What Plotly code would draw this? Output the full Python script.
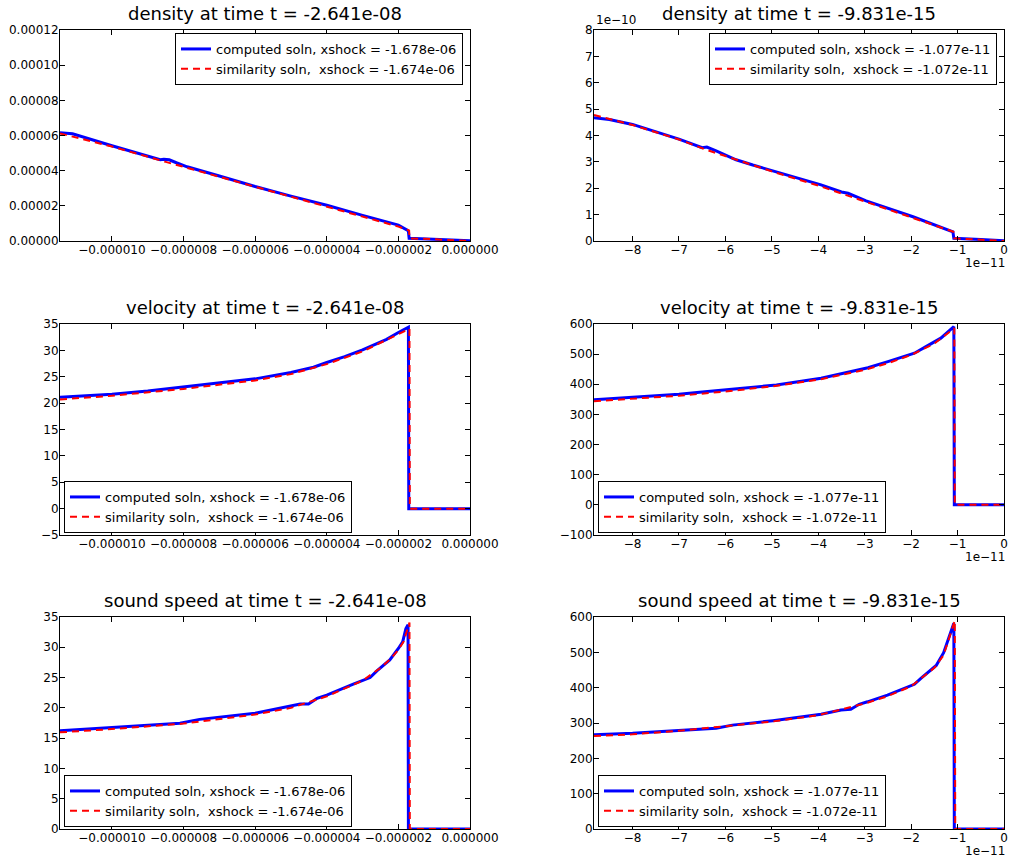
import plotly.graph_objects as go

W, H = 1010, 858
FONT = "DejaVu Sans"
MINUS = "\u2212"

# ---------------- data ----------------
# left column: x in metres (~1e-6), right column: x (~1e-11)
dens_L_comp_x = [-11.45e-6, -11.1e-6, -10.0e-6, -9.0e-6, -8.65e-6, -8.55e-6, -8.4e-6, -8.2e-6, -7.9e-6, -7.0e-6,
                 -6.0e-6, -5.0e-6, -4.65e-6, -4.5e-6, -4.3e-6, -4.0e-6, -3.0e-6, -2.75e-6, -2.6e-6, -2.0e-6,
                 -1.75e-6, -1.72e-6, -1.70e-6, -1.0e-6, 0.0]
dens_L_comp_y = [6.15e-5, 6.10e-5, 5.42e-5, 4.86e-5, 4.62e-5, 4.65e-5, 4.62e-5, 4.45e-5, 4.22e-5, 3.70e-5,
                 3.10e-5, 2.55e-5, 2.37e-5, 2.33e-5, 2.20e-5, 2.03e-5, 1.46e-5, 1.33e-5, 1.24e-5, 0.90e-5,
                 0.62e-5, 0.55e-5, 0.15e-5, 0.10e-5, 0.02e-5]
dens_L_sim_x = [-11.45e-6, -10.0e-6, -8.5e-6, -8.0e-6, -6.0e-6, -4.0e-6, -2.0e-6, -1.70e-6, -1.69e-6, -1.0e-6, 0.0]
dens_L_sim_y = [6.12e-5, 5.37e-5, 4.50e-5, 4.22e-5, 3.08e-5, 1.98e-5, 0.82e-5, 0.60e-5, 0.15e-5, 0.10e-5, 0.0]

dens_R_comp_x = [-8.83e-11, -8.5e-11, -8.0e-11, -7.0e-11, -6.5e-11, -6.4e-11, -6.2e-11, -5.77e-11, -5.41e-11,
                 -4.94e-11, -3.94e-11, -3.5e-11, -3.36e-11, -2.97e-11, -1.96e-11, -1.10e-11, -1.08e-11, -0.5e-11, 0.0]
dens_R_comp_y = [4.67e-10, 4.61e-10, 4.42e-10, 3.86e-10, 3.54e-10, 3.56e-10, 3.42e-10, 3.08e-10, 2.88e-10,
                 2.64e-10, 2.13e-10, 1.86e-10, 1.81e-10, 1.52e-10, 0.92e-10, 0.35e-10, 0.10e-10, 0.06e-10, 0.01e-10]
dens_R_sim_x = [-8.83e-11, -8.0e-11, -7.0e-11, -6.4e-11, -6.0e-11, -5.0e-11, -4.0e-11, -3.0e-11, -2.0e-11,
                -1.09e-11, -1.07e-11, 0.0]
dens_R_sim_y = [4.78e-10, 4.40e-10, 3.85e-10, 3.45e-10, 3.22e-10, 2.64e-10, 2.10e-10, 1.50e-10, 0.90e-10,
                0.35e-10, 0.10e-10, 0.0]

vel_L_comp_x = [-11.45e-6, -10.0e-6, -9.0e-6, -8.6e-6, -8.0e-6, -7.0e-6, -6.0e-6, -5.0e-6, -4.37e-6, -4.0e-6,
                -3.5e-6, -3.0e-6, -2.5e-6, -2.33e-6, -2.0e-6, -1.72e-6, -1.71e-6, 0.0]
vel_L_comp_y = [21.1, 21.7, 22.3, 22.6, 23.0, 23.8, 24.6, 25.8, 26.8, 27.7,
                28.8, 30.1, 31.6, 32.1, 33.4, 34.4, 0.0, 0.0]
vel_L_sim_x = [-11.45e-6, -10.0e-6, -8.0e-6, -6.0e-6, -5.0e-6, -4.0e-6, -3.0e-6, -2.5e-6, -2.0e-6, -1.69e-6,
               -1.68e-6, 0.0]
vel_L_sim_y = [20.7, 21.4, 22.7, 24.3, 25.5, 27.4, 29.8, 31.4, 33.1, 34.1, 0.0, 0.0]

vel_R_comp_x = [-8.83e-11, -8.0e-11, -7.0e-11, -6.5e-11, -5.9e-11, -4.9e-11, -3.94e-11, -3.29e-11, -2.93e-11,
                -2.5e-11, -1.93e-11, -1.68e-11, -1.36e-11, -1.08e-11, -1.07e-11, 0.0]
vel_R_comp_y = [349, 357, 367, 374.5, 383, 397.7, 420, 442, 455,
                475, 503, 525, 553, 591, 0, 0]
vel_R_sim_x = [-8.83e-11, -8.0e-11, -7.0e-11, -6.0e-11, -5.0e-11, -4.0e-11, -3.0e-11, -2.5e-11, -2.0e-11,
               -1.5e-11, -1.07e-11, -1.06e-11, 0.0]
vel_R_sim_y = [344, 352, 362, 376, 393, 415, 448, 470, 497, 535, 586, 0, 0]

snd_L_comp_x = [-11.45e-6, -10.0e-6, -8.1e-6, -7.55e-6, -6.0e-6, -4.74e-6, -4.51e-6, -4.27e-6, -4.0e-6,
                -3.26e-6, -2.79e-6, -2.6e-6, -2.24e-6, -2.0e-6, -1.88e-6, -1.79e-6, -1.73e-6, -1.72e-6, 0.0]
snd_L_comp_y = [16.2, 16.73, 17.45, 18.1, 19.1, 20.64, 20.64, 21.57, 22.1,
                23.9, 25.0, 26.1, 27.9, 29.8, 30.9, 33.1, 33.7, 0.0, 0.0]
snd_L_sim_x = [-11.45e-6, -10.0e-6, -8.0e-6, -6.0e-6, -5.0e-6, -4.0e-6, -3.0e-6, -2.5e-6, -2.2e-6, -2.0e-6,
               -1.85e-6, -1.69e-6, -1.68e-6, 0.0]
snd_L_sim_y = [15.96, 16.5, 17.4, 18.9, 20.0, 21.9, 24.5, 26.6, 28.2, 29.6, 31.0, 34.1, 0.0, 0.0]

snd_R_comp_x = [-8.83e-11, -8.0e-11, -6.2e-11, -5.85e-11, -4.98e-11, -3.94e-11, -3.51e-11, -3.3e-11, -3.12e-11,
                -2.94e-11, -2.51e-11, -2.04e-11, -1.93e-11, -1.79e-11, -1.46e-11, -1.30e-11, -1.08e-11,
                -1.07e-11, 0.0]
snd_R_comp_y = [267, 271, 285, 294, 306.6, 324.6, 336.8, 338.7, 353,
                360, 379, 405, 409.6, 426.5, 463, 499, 582, 0, 0]
snd_R_sim_x = [-8.83e-11, -8.0e-11, -7.0e-11, -6.0e-11, -5.0e-11, -4.0e-11, -3.0e-11, -2.5e-11, -2.0e-11,
               -1.5e-11, -1.3e-11, -1.06e-11, -1.05e-11, 0.0]
snd_R_sim_y = [263, 268, 278, 290, 304, 322, 355, 376, 404, 456, 492, 590, 0, 0]

titles = ["density at time t = -2.641e-08", "density at time t = -9.831e-15",
          "velocity at time t = -2.641e-08", "velocity at time t = -9.831e-15",
          "sound speed at time t = -2.641e-08", "sound speed at time t = -9.831e-15"]
leg_L = ["computed soln, xshock = -1.678e-06", "similarity soln,\u00a0 xshock = -1.674e-06"]
leg_R = ["computed soln, xshock = -1.077e-11", "similarity soln,\u00a0 xshock = -1.072e-11"]

xL_tickvals = [-10e-6, -8e-6, -6e-6, -4e-6, -2e-6, 0.0]
xL_ticktext = [MINUS + "0.000010", MINUS + "0.000008", MINUS + "0.000006", MINUS + "0.000004",
               MINUS + "0.000002", "0.000000"]
xR_tickvals = [-8e-11, -7e-11, -6e-11, -5e-11, -4e-11, -3e-11, -2e-11, -1e-11, 0.0]
xR_ticktext = [MINUS + "8", MINUS + "7", MINUS + "6", MINUS + "5", MINUS + "4", MINUS + "3",
               MINUS + "2", MINUS + "1", "0"]

densL_tickvals = [0, 2e-5, 4e-5, 6e-5, 8e-5, 10e-5, 12e-5]
densL_ticktext = ["0.00000", "0.00002", "0.00004", "0.00006", "0.00008", "0.00010", "0.00012"]
densR_tickvals = [0, 1e-10, 2e-10, 3e-10, 4e-10, 5e-10, 6e-10, 7e-10, 8e-10]
densR_ticktext = ["0", "1", "2", "3", "4", "5", "6", "7", "8"]
velL_tickvals = [-5, 0, 5, 10, 15, 20, 25, 30, 35]
velL_ticktext = [MINUS + "5", "0", "5", "10", "15", "20", "25", "30", "35"]
velR_tickvals = [-100, 0, 100, 200, 300, 400, 500, 600]
velR_ticktext = [MINUS + "100", "0", "100", "200", "300", "400", "500", "600"]
sndL_tickvals = [0, 5, 10, 15, 20, 25, 30, 35]
sndL_ticktext = ["0", "5", "10", "15", "20", "25", "30", "35"]
sndR_tickvals = [0, 100, 200, 300, 400, 500, 600]
sndR_ticktext = ["0", "100", "200", "300", "400", "500", "600"]

# ---------------- layout geometry (pixels) ----------------
cols = [(60, 470), (594, 1004)]
rows = [(30, 241), (324, 535), (617, 829)]

def px_x(p):
    return p / W

def px_y(p):
    return 1 - p / H

fig = go.Figure()

panels = [
    (dens_L_comp_x, dens_L_comp_y, dens_L_sim_x, dens_L_sim_y, leg_L),
    (dens_R_comp_x, dens_R_comp_y, dens_R_sim_x, dens_R_sim_y, leg_R),
    (vel_L_comp_x, vel_L_comp_y, vel_L_sim_x, vel_L_sim_y, leg_L),
    (vel_R_comp_x, vel_R_comp_y, vel_R_sim_x, vel_R_sim_y, leg_R),
    (snd_L_comp_x, snd_L_comp_y, snd_L_sim_x, snd_L_sim_y, leg_L),
    (snd_R_comp_x, snd_R_comp_y, snd_R_sim_x, snd_R_sim_y, leg_R),
]
yranges = [(0, 12e-5), (0, 8e-10), (-5, 35), (-100, 600), (0, 35), (0, 600)]
yticks = [(densL_tickvals, densL_ticktext), (densR_tickvals, densR_ticktext),
          (velL_tickvals, velL_ticktext), (velR_tickvals, velR_ticktext),
          (sndL_tickvals, sndL_ticktext), (sndR_tickvals, sndR_ticktext)]

layout = dict(width=W, height=H, margin=dict(l=0, r=0, t=0, b=0),
              paper_bgcolor="white", plot_bgcolor="white",
              font=dict(family=FONT, size=12, color="black"), showlegend=True)
annotations = []

for i, (cx, cy, sx, sy, leg) in enumerate(panels):
    r, c = divmod(i, 2)
    n = i + 1
    xa = "x" if n == 1 else f"x{n}"
    ya = "y" if n == 1 else f"y{n}"
    lg = "legend" if n == 1 else f"legend{n}"
    fig.add_trace(go.Scatter(x=cx, y=cy, mode="lines", name=leg[0], xaxis=xa, yaxis=ya, legend=lg,
                             line=dict(color="#0000ff", width=3)))
    fig.add_trace(go.Scatter(x=sx, y=sy, mode="lines", name=leg[1], xaxis=xa, yaxis=ya, legend=lg,
                             line=dict(color="#ff0000", width=2, dash="7px,5px")))
    x0, x1 = cols[c]
    y0, y1 = rows[r]
    common = dict(showgrid=False, zeroline=False, showline=True, linecolor="black", linewidth=1,
                  mirror="ticks", ticks="inside", ticklen=5, tickcolor="black", tickwidth=1,
                  tickfont=dict(family=FONT, size=12, color="black"), automargin=False, fixedrange=True)
    xr = (-11.45e-6, 0.0) if c == 0 else (-8.83e-11, 0.0)
    xtv, xtt = (xL_tickvals, xL_ticktext) if c == 0 else (xR_tickvals, xR_ticktext)
    layout["xaxis" if n == 1 else f"xaxis{n}"] = dict(
        common, domain=[px_x(x0), px_x(x1)], range=list(xr), tickmode="array",
        tickvals=xtv, ticktext=xtt, anchor=ya, ticklabelstandoff=-2)
    layout["yaxis" if n == 1 else f"yaxis{n}"] = dict(
        common, domain=[px_y(y1), px_y(y0)], range=list(yranges[i]), tickmode="array",
        tickvals=yticks[i][0], ticktext=yticks[i][1], anchor=xa, ticklabelstandoff=-2)
    # legend
    if r == 0:
        ldict = dict(x=px_x(x1 - 7), y=px_y(y0 + 3), xanchor="right", yanchor="top")
    else:
        ldict = dict(x=px_x(x0 + 4), y=px_y(y1 - 2), xanchor="left", yanchor="bottom")
    layout[lg] = dict(ldict, bgcolor="white", bordercolor="black", borderwidth=1,
                      font=dict(family=FONT, size=13, color="black"), tracegroupgap=0)
    # title
    annotations.append(dict(text=titles[i], x=px_x((x0 + x1) / 2), y=px_y(y0 - 4), xref="paper", yref="paper",
                            xanchor="center", yanchor="bottom", showarrow=False,
                            font=dict(family=FONT, size=18, color="black")))
    if c == 1:
        annotations.append(dict(text="1e" + MINUS + "11", x=px_x(1007), y=px_y(y1 + 13), xref="paper",
                                yref="paper", xanchor="right", yanchor="top", showarrow=False,
                                font=dict(family=FONT, size=12, color="black")))

annotations.append(dict(text="1e" + MINUS + "10", x=px_x(594), y=px_y(29), xref="paper", yref="paper",
                        xanchor="left", yanchor="bottom", showarrow=False,
                        font=dict(family=FONT, size=12, color="black")))
layout["annotations"] = annotations
fig.update_layout(**layout)
fig.write_html("out.html")
